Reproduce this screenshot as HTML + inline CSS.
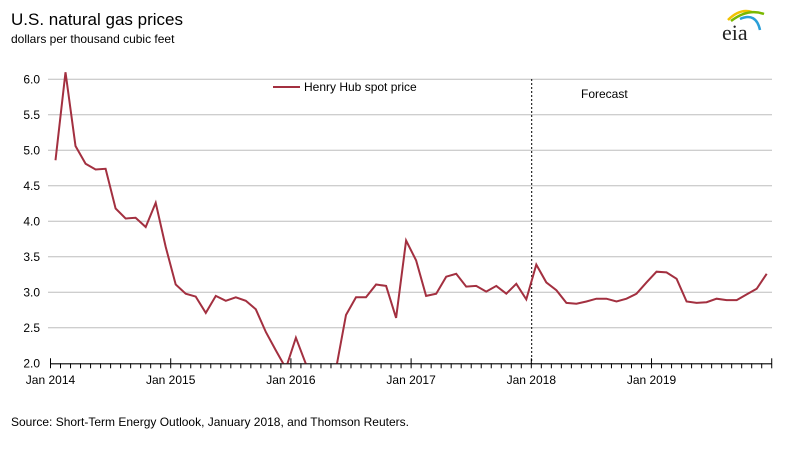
<!DOCTYPE html>
<html><head><meta charset="utf-8"><style>
body{margin:0;background:#fff;font-family:"Liberation Sans",sans-serif;}
#wrap{position:relative;width:788px;height:455px;overflow:hidden;}
</style></head><body><div id="wrap">
<svg id="chart" width="788" height="455" font-family="Liberation Sans, sans-serif">
<text x="11" y="25" font-size="17" fill="#000">U.S. natural gas prices</text>
<text x="11" y="43" font-size="12" fill="#000">dollars per thousand cubic feet</text>
<g>
<path d="M728 20 Q740 8 752 12" stroke="#f2c200" stroke-width="2.5" fill="none"/>
<path d="M731 21 Q748 8 764 14" stroke="#7ab800" stroke-width="2.5" fill="none"/>
<path d="M740 19 Q756 12 760 30" stroke="#2a9fd8" stroke-width="2.5" fill="none"/>
<text x="722" y="40" font-family="Liberation Serif, serif" font-size="22" fill="#222">eia</text>
</g>
<g id="grid"></g><g id="yt"></g><g id="xt"></g>
<line x1="531.7" y1="79" x2="531.7" y2="364" stroke="#000" stroke-dasharray="2,2" stroke-width="1"/>
<text x="581" y="98" font-size="12">Forecast</text>
<g>
<line x1="273" y1="87" x2="300" y2="87" stroke="#a33040" stroke-width="2"/>
<text x="304" y="91" font-size="12">Henry Hub spot price</text>
</g>
<defs><clipPath id="pc"><rect x="48" y="72" width="730" height="291.5"/></clipPath></defs>
<path id="line" fill="none" stroke="#a33040" stroke-width="2" clip-path="url(#pc)"/>
<text x="11" y="426" font-size="12">Source: Short-Term Energy Outlook, January 2018, and Thomson Reuters.</text>
</svg></div>
<script>
const yTicks=[2.0,2.5,3.0,3.5,4.0,4.5,5.0,5.5,6.0];
const xLabels=["Jan 2014","Jan 2015","Jan 2016","Jan 2017","Jan 2018","Jan 2019"];
const prices2014=[4.86,6.10,5.06,4.81,4.73,4.74,4.18,4.04,4.05,3.92,4.26,3.64];
const prices2015=[3.11,2.98,2.94,2.71,2.95,2.88,2.93,2.88,2.76,2.44,2.18,1.93];
const prices2016=[2.36,1.99,1.73,1.92,1.92,2.68,2.93,2.93,3.11,3.09,2.64,3.73];
const prices2017=[3.45,2.95,2.98,3.22,3.26,3.08,3.09,3.01,3.09,2.98,3.12,2.90];
const prices2018=[3.39,3.14,3.03,2.85,2.84,2.87,2.91,2.91,2.87,2.91,2.98,3.14];
const prices2019=[3.29,3.28,3.19,2.87,2.85,2.86,2.91,2.89,2.89,2.97,3.05,3.26];
const prices=[].concat(prices2014,prices2015,prices2016,prices2017,prices2018,prices2019);
const X0=50.5,MW=10.017,Y0=363.3,PU=71;
const xs=i=>X0+MW*i, ys=v=>Y0-(v-2)*PU;
const NS="http://www.w3.org/2000/svg";
function mk(t,a,p){const e=document.createElementNS(NS,t);for(const k in a)e.setAttribute(k,a[k]);p.appendChild(e);return e;}
const g=document.getElementById('grid'),yt=document.getElementById('yt'),xt=document.getElementById('xt');
yTicks.forEach(v=>{
 if(v>2){const l=mk('line',{x1:48,x2:772,y1:ys(v),y2:ys(v),stroke:'#bdbdbd','stroke-width':1},g);
 
 }
 const t=mk('text',{x:40,y:ys(v)+4,'font-size':12,'text-anchor':'end'},yt);t.textContent=v.toFixed(1);
 
 
});
const ax=mk('line',{x1:X0,x2:xs(72),y1:Y0+0.5,y2:Y0+0.5,stroke:'#000','stroke-width':1.2},xt);


for(let i=0;i<=72;i++){const maj=i%12===0;
 mk('line',{x1:xs(i),x2:xs(i),y1:maj?Y0-5:Y0,y2:Y0+5,stroke:'#000','stroke-width':1},xt);}
xLabels.forEach((s,k)=>{const t=mk('text',{x:xs(k*12),y:384,'font-size':12,'text-anchor':'middle'},xt);t.textContent=s;
 
 });
document.getElementById('line').setAttribute('d',prices.map((v,i)=>(i?'L':'M')+xs(i+0.5).toFixed(1)+' '+ys(v).toFixed(1)).join(' '));
</script></body></html>
